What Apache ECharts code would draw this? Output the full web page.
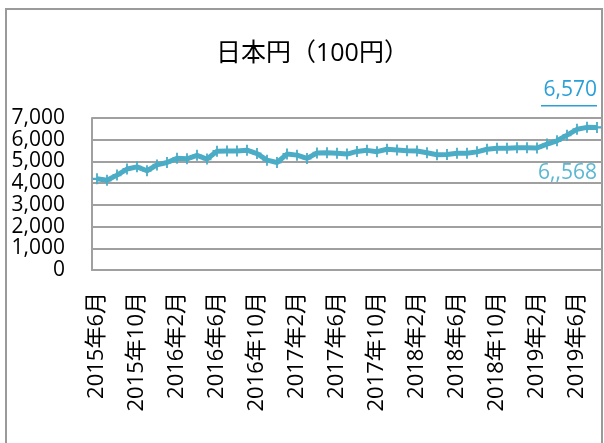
<!DOCTYPE html>
<html>
<head>
<meta charset="utf-8">
<script src="https://cdn.jsdelivr.net/npm/echarts@6/dist/echarts.min.js"></script>
<style>
html,body{margin:0;padding:0;background:#fff;}
#chart{width:604px;height:443px;}
</style>
</head>
<body>
<div id="chart"></div>
<script>
var titleText = '日本円（100円）';
var categories = [
 '2015年6月','2015年7月','2015年8月','2015年9月','2015年10月','2015年11月','2015年12月',
 '2016年1月','2016年2月','2016年3月','2016年4月','2016年5月','2016年6月','2016年7月','2016年8月','2016年9月','2016年10月','2016年11月','2016年12月',
 '2017年1月','2017年2月','2017年3月','2017年4月','2017年5月','2017年6月','2017年7月','2017年8月','2017年9月','2017年10月','2017年11月','2017年12月',
 '2018年1月','2018年2月','2018年3月','2018年4月','2018年5月','2018年6月','2018年7月','2018年8月','2018年9月','2018年10月','2018年11月','2018年12月',
 '2019年1月','2019年2月','2019年3月','2019年4月','2019年5月','2019年6月','2019年7月','2019年8月'
];
var yenValues = [
 4200,4130,4370,4650,4750,4570,4840,
 4950,5150,5120,5280,5110,5470,5480,5480,5520,5360,5060,4950,
 5340,5290,5140,5390,5400,5380,5340,5460,5510,5450,5560,5530,
 5490,5480,5400,5310,5320,5380,5380,5440,5560,5610,5610,5630,
 5630,5620,5800,5950,6210,6480,6570,6568
];
var yTicks = {min:0, max:7000, interval:1000};
var noteTop = '6,570';
var noteBottom = '6,,568';

var FONT = '"Open Sans","Noto Sans CJK JP",sans-serif';
var chart = echarts.init(document.getElementById('chart'));
chart.setOption({
  animation:false,
  backgroundColor:'#ffffff',
  title:{
    text:titleText, left:211, top:36,
    textStyle:{fontFamily:FONT, fontSize:25, fontWeight:'normal', color:'#000'}
  },
  grid:{left:92, right:2, top:118, bottom:173},
  xAxis:{
    type:'category', data:categories, boundaryGap:true,
    axisLine:{show:true, lineStyle:{color:'#a0a0a0', width:2}},
    axisTick:{show:false},
    axisLabel:{interval:3, rotate:90, margin:22, fontFamily:FONT, fontSize:22, color:'#000'}
  },
  yAxis:{
    type:'value', min:yTicks.min, max:yTicks.max, interval:yTicks.interval,
    axisLine:{show:true, lineStyle:{color:'#a0a0a0', width:2}},
    axisTick:{show:false},
    splitLine:{lineStyle:{color:'#a0a0a0', width:2}},
    axisLabel:{margin:27, fontFamily:FONT, fontSize:21, color:'#000',
      formatter:function(v){return v.toLocaleString('en-US');}}
  },
  series:[{
    type:'line', data:yenValues,
    lineStyle:{color:'#4bacc6', width:5},
    itemStyle:{color:'#4bacc6'},
    symbol:'path://M4,0 L6,0 L6,4 L10,4 L10,6 L6,6 L6,10 L4,10 L4,6 L0,6 L0,4 L4,4 Z',
    symbolSize:[9,11],
    showSymbol:true,
    showAllSymbol:true
  }],
  graphic:[
    {type:'rect', shape:{x:6, y:9, width:596, height:450}, style:{fill:'none', stroke:'#9a9a9a', lineWidth:2}, silent:true},
    {type:'text', right:7, top:80, style:{text:noteTop, font:'21px '+FONT, fill:'#2a9fd8'}},
    {type:'rect', shape:{x:541, y:105, width:56, height:1.5}, style:{fill:'#2a9fd8'}},
    {type:'text', right:7, top:163, style:{text:noteBottom, font:'21px '+FONT, fill:'#5bb8d2'}}
  ]
});
</script>
</body>
</html>
